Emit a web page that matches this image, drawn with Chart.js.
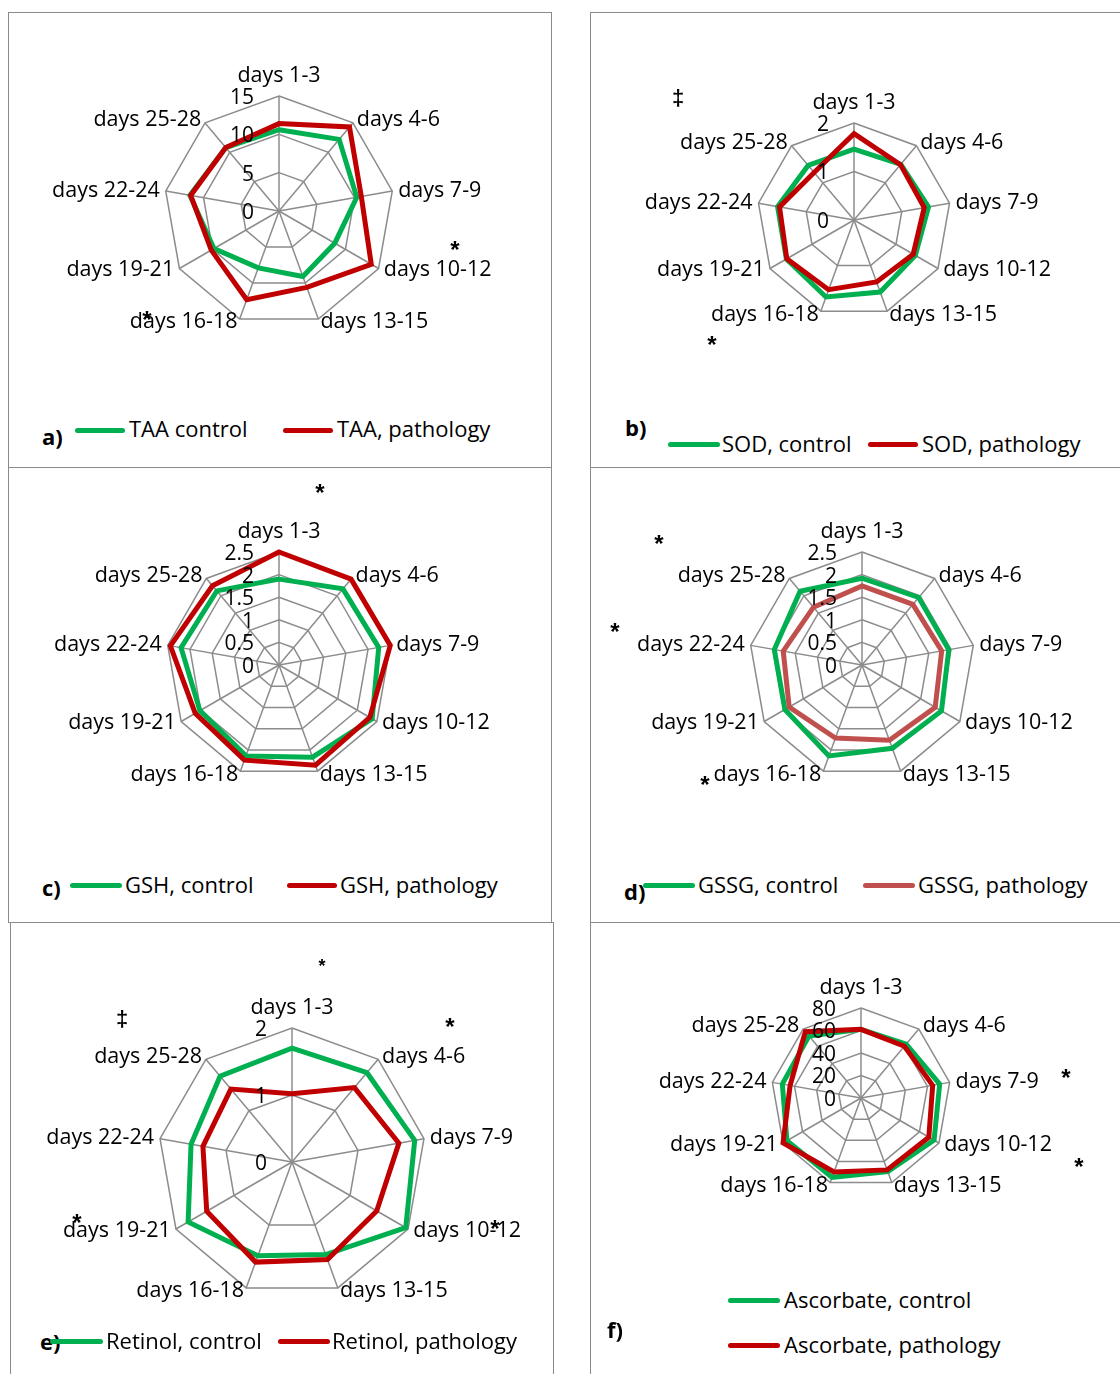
<!DOCTYPE html>
<html><head><meta charset="utf-8">
<script src="https://cdn.jsdelivr.net/npm/chart.js@4.4.0/dist/chart.umd.min.js"></script>
<style>
body{margin:0;background:#fff;}
#page{position:relative;width:1120px;height:1374px;overflow:hidden;font-family:'Open Sans',sans-serif;color:#000;background:#fff;}
.panel{position:absolute;border:1.5px solid #8a8a8a;box-sizing:border-box;}
canvas{position:absolute;}
.txt{position:absolute;font-size:22px;line-height:30px;white-space:nowrap;}
.sw{position:absolute;height:5px;border-radius:3px;}
.let{position:absolute;font-size:22px;font-weight:bold;line-height:30px;white-space:nowrap;}
.ast{position:absolute;font-family:'Liberation Sans',sans-serif;font-weight:bold;font-size:24px;line-height:24px;transform:translateX(-50%);}
</style></head>
<body><div id="page"></div>
<script>
// ---- data ----
const categories = ['days 1-3','days 4-6','days 7-9','days 10-12','days 13-15','days 16-18','days 19-21','days 22-24','days 25-28'];

const taaControl    = [10.6, 12.2, 10.3, 8.4, 9.1, 7.9, 9.8, 11.8, 10.8];
const taaPathology  = [11.4, 14.3, 10.9, 13.9, 10.6, 12.3, 10.2, 11.7, 10.8];
const taaTicks      = [0, 5, 10, 15];

const sodControl    = [1.46, 1.50, 1.56, 1.46, 1.58, 1.69, 1.61, 1.60, 1.47];
const sodPathology  = [1.78, 1.49, 1.47, 1.41, 1.36, 1.53, 1.60, 1.56, 1.28];
const sodTicks      = [0, 1, 2];

const gshControl    = [1.90, 2.20, 2.24, 2.38, 2.17, 2.14, 2.02, 2.20, 2.14];
const gshPathology  = [2.50, 2.48, 2.50, 2.32, 2.36, 2.24, 2.14, 2.44, 2.29];
const gshTicks      = [0, 0.5, 1, 1.5, 2, 2.5];

const gssgControl   = [1.92, 1.95, 1.95, 2.03, 1.96, 2.14, 1.97, 1.97, 2.13];
const gssgPathology = [1.75, 1.75, 1.79, 1.87, 1.77, 1.72, 1.86, 1.77, 1.67];
const gssgTicks     = [0, 0.5, 1, 1.5, 2, 2.5];

const retinolControl   = [1.70, 1.74, 1.86, 1.96, 1.47, 1.49, 1.79, 1.53, 1.67];
const retinolPathology = [1.02, 1.45, 1.62, 1.46, 1.55, 1.59, 1.47, 1.35, 1.42];
const retinolTicks     = [0, 1, 2];

const ascControl    = [61, 62.5, 71, 75, 69.6, 75, 76, 71, 72];
const ascPathology  = [61, 60, 64.7, 69.6, 68, 70, 80, 64, 77];
const ascTicks      = [0, 20, 40, 60, 80];

// ---- style ----
const GREEN = '#00B050', RED = '#C00000', RED2 = '#C0504D', GRID = '#8c8c8c';
const page = document.getElementById('page');

const labelPlugin = {
  id: 'excelLabels',
  afterDatasetsDraw(chart, args, opts) {
    const s = chart.scales.r, ctx = chart.ctx;
    ctx.save();
    ctx.fillStyle = '#000';
    ctx.font = '21.5px "Open Sans"';
    ctx.textBaseline = 'middle';
    chart.data.labels.forEach((lab, i) => {
      const px = s.getPointPosition(i, s.drawingArea + 6);
      const py = s.getPointPosition(i, s.drawingArea + 3.5);
      const dx = px.x - s.xCenter;
      if (Math.abs(dx) < 1) { ctx.textAlign = 'center'; ctx.fillText(lab, px.x, px.y - 14); }
      else { ctx.textAlign = dx > 0 ? 'left' : 'right'; ctx.fillText(lab, px.x, py.y); }
    });
    ctx.textAlign = 'right';
    ctx.font = '21px "Open Sans"';
    (opts.ticks || []).forEach(v => {
      const d = s.getDistanceFromCenterForValue(v);
      ctx.fillText(String(v), s.xCenter - 25, s.yCenter - d + 2);
    });
    ctx.restore();
  }
};

function addDiv(cls, x, y, text, extra) {
  const d = document.createElement('div');
  d.className = cls; d.style.left = x + 'px'; d.style.top = y + 'px';
  if (text) d.textContent = text;
  if (extra) Object.assign(d.style, extra);
  page.appendChild(d); return d;
}
function panel(x, y, w, h) { addDiv('panel', x, y, '', {width: w + 'px', height: h + 'px'}); }
function swatch(x, cy, w, color) { addDiv('sw', x, cy - 2.5, '', {width: w + 'px', background: color}); }
function txt(x, cy, t) { addDiv('txt', x, cy - 16, t); }
function letter(x, cy, t) { addDiv('let', x, cy - 16, t); }
function ast(x, cy, t, size) { const d = addDiv('ast', x, cy - 7, t || '*'); if (size) { d.style.fontSize = size + 'px'; d.style.lineHeight = size + 'px'; d.style.top = (cy - size * 0.29) + 'px'; } }

function radar(box, cx, cy, R, ctrl, path, ticks, names, pathColor) {
  const cv = document.createElement('canvas');
  cv.width = box.w; cv.height = box.h;
  cv.style.left = box.x + 'px'; cv.style.top = box.y + 'px';
  page.appendChild(cv);
  new Chart(cv, {
    type: 'radar',
    data: { labels: categories, datasets: [
      { label: names[1], data: path, borderColor: pathColor || RED, borderWidth: 5, pointRadius: 0, pointHoverRadius: 0, fill: false, order: 0, clip: false },
      { label: names[0], data: ctrl, borderColor: GREEN, borderWidth: 5, pointRadius: 0, pointHoverRadius: 0, fill: false, order: 1, clip: false }
    ]},
    options: {
      responsive: false, animation: false, events: [],
      layout: { padding: { left: cx - R - box.x, top: cy - R - box.y, right: box.x + box.w - cx - R, bottom: box.y + box.h - cy - R } },
      elements: { line: { tension: 0, borderJoinStyle: 'miter' } },
      plugins: { legend: { display: false }, tooltip: { enabled: false }, excelLabels: { ticks: ticks } },
      scales: { r: {
        min: ticks[0], max: ticks[ticks.length - 1],
        ticks: { display: false },
        afterBuildTicks: sc => { sc.ticks = ticks.map(v => ({ value: v })); },
        pointLabels: { display: false },
        grid: { color: GRID, lineWidth: 1.5 },
        angleLines: { color: GRID, lineWidth: 1.5 }
      } }
    },
    plugins: [labelPlugin]
  });
}

// panels
panel(8, 12, 544, 456); panel(590, 12, 560, 456);
panel(8, 467, 544, 456); panel(590, 467, 560, 456);
panel(10, 922, 544, 480); panel(590, 922, 560, 480);

radar({x: 10, y: 14, w: 540, h: 390}, 279, 211, 115, taaControl, taaPathology, taaTicks, ['TAA control', 'TAA, pathology']);
radar({x: 592, y: 14, w: 526, h: 390}, 854, 220, 97, sodControl, sodPathology, sodTicks, ['SOD, control', 'SOD, pathology']);
radar({x: 10, y: 469, w: 540, h: 390}, 279, 665, 113, gshControl, gshPathology, gshTicks, ['GSH, control', 'GSH, pathology']);
radar({x: 592, y: 469, w: 526, h: 390}, 862, 665, 113, gssgControl, gssgPathology, gssgTicks, ['GSSG, control', 'GSSG, pathology'], RED2);
radar({x: 12, y: 924, w: 540, h: 395}, 292, 1162, 134, retinolControl, retinolPathology, retinolTicks, ['Retinol, control', 'Retinol, pathology']);
radar({x: 592, y: 924, w: 526, h: 330}, 861, 1098, 90, ascControl, ascPathology, ascTicks, ['Ascorbate, control', 'Ascorbate, pathology']);

// legends
letter(42, 437, 'a)'); swatch(75, 430, 50, GREEN); txt(129, 429, 'TAA control'); swatch(283, 430, 50, RED); txt(337, 429, 'TAA, pathology');
letter(625, 428, 'b)'); swatch(668, 444, 52, GREEN); txt(722, 444, 'SOD, control'); swatch(868, 444, 50, RED); txt(922, 444, 'SOD, pathology');
letter(42, 888, 'c)'); swatch(70, 885, 52, GREEN); txt(125, 885, 'GSH, control'); swatch(287, 885, 50, RED); txt(340, 885, 'GSH, pathology');
letter(624, 892, 'd)'); swatch(643, 885, 52, GREEN); txt(698, 885, 'GSSG, control'); swatch(863, 885, 52, RED2); txt(918, 885, 'GSSG, pathology');
letter(40, 1342, 'e)'); swatch(50, 1341, 53, GREEN); txt(106, 1341, 'Retinol, control'); swatch(278, 1341, 52, RED); txt(332, 1341, 'Retinol, pathology');
letter(607, 1330, 'f)'); swatch(728, 1300, 52, GREEN); txt(784, 1300, 'Ascorbate, control'); swatch(728, 1345, 52, RED); txt(784, 1345, 'Ascorbate, pathology');

// significance marks
ast(455, 245); ast(147, 315);
ast(678, 93, '\u2021', 22); ast(712, 340);
ast(320, 488);
ast(659, 539); ast(615, 627); ast(705, 780);
ast(322, 962, '*', 18); ast(450, 1022); ast(122, 1014, '\u2021', 22); ast(77, 1218); ast(495, 1224);
ast(1066, 1073); ast(1079, 1162);
</script>
</body></html>
